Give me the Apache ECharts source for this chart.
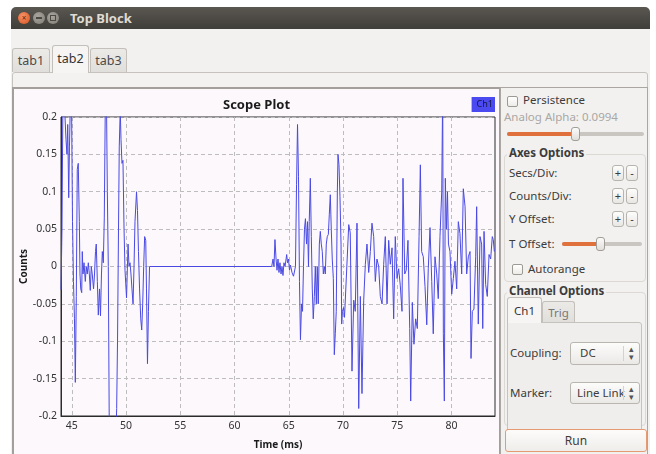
<!DOCTYPE html>
<html>
<head>
<meta charset="utf-8">
<script src="https://cdn.jsdelivr.net/npm/echarts@6/dist/echarts.min.js"></script>
<style>
  html, body { margin:0; padding:0; width:656px; height:454px; overflow:hidden; background:#ffffff;
    font-family:"Noto Sans", "DejaVu Sans", sans-serif; color:#3c3c3c; }
  .a { position:absolute; box-sizing:border-box; }
  .lbl { position:absolute; font-size:11.5px; line-height:14px; white-space:nowrap; color:#3c3c3c; }
  .bold { font-weight:bold; }
  .cb { position:absolute; width:11px; height:11px; border:1px solid #9d9a95; border-radius:2px;
    background:linear-gradient(#ffffff,#eeece9); box-sizing:border-box; }
  .btn { position:absolute; width:12px; height:16px; border:1px solid #b7b4af; border-radius:3px;
    background:linear-gradient(#fdfdfc,#e9e7e4); box-sizing:border-box; font-size:11px; line-height:13px;
    text-align:center; color:#3c3c3c; }
  .track { position:absolute; height:4px; border-radius:2px; background:#c9c6c1; }
  .fill { position:absolute; height:4px; border-radius:2px; background:#e0703c; }
  .handle { position:absolute; width:9px; height:14px; border:1px solid #a19d97; border-radius:3px;
    background:linear-gradient(#fbfbfa,#e2dfdb); box-sizing:border-box; }
  .combo { position:absolute; border:1px solid #b9b6b0; border-radius:3px; box-sizing:border-box;
    background:linear-gradient(#fcfcfb,#ebe9e6); font-size:11.5px; line-height:20px; overflow:hidden; white-space:nowrap; }
  .tab { position:absolute; box-sizing:border-box; border:1px solid #c3c0bb; border-bottom:none;
    border-radius:3px 3px 0 0; font-size:12.5px; text-align:center; color:#4a4a4a; }
</style>
</head>
<body>
<!-- window title bar -->
<div class="a" style="left:11px;top:7px;width:639px;height:22px;border-radius:5px 5px 0 0;background:linear-gradient(#5a5751,#403e3a);"></div>
<div class="a" style="left:18px;top:12px;width:12px;height:12px;border-radius:6px;background:radial-gradient(circle at 40% 35%,#f5946a,#d9501c);"></div>
<div class="a" style="left:21px;top:10px;width:6px;font-size:8px;color:#5a2a10;text-align:center;line-height:15px;">×</div>
<div class="a" style="left:33px;top:12px;width:12px;height:12px;border-radius:6px;background:radial-gradient(circle at 40% 35%,#a9a59e,#7f7b75);"></div>
<div class="a" style="left:36px;top:17px;width:6px;height:2px;background:#4b4944;"></div>
<div class="a" style="left:47px;top:12px;width:12px;height:12px;border-radius:6px;background:radial-gradient(circle at 40% 35%,#a9a59e,#7f7b75);"></div>
<div class="a" style="left:50px;top:15px;width:6px;height:6px;border:1px solid #4b4944;"></div>
<div class="lbl bold" style="left:70px;top:10px;font-size:13px;line-height:16px;color:#dfdbd2;">Top Block</div>

<!-- window body -->
<div class="a" style="left:11px;top:29px;width:639px;height:430px;background:#f2f1f0;"></div>

<!-- top tabs -->
<div class="tab" style="left:12px;top:48px;width:38px;height:24px;background:linear-gradient(#eceae7,#e1dfdb);line-height:24px;">tab1</div>
<div class="tab" style="left:52px;top:45px;width:37px;height:28px;background:#f6f5f4;line-height:26px;color:#333;z-index:2;">tab2</div>
<div class="tab" style="left:90px;top:48px;width:37px;height:24px;background:linear-gradient(#eceae7,#e1dfdb);line-height:24px;">tab3</div>
<div class="a" style="left:12px;top:72px;width:636px;height:400px;border:1px solid #c6c3be;border-radius:3px;background:#f3f2f1;"></div>

<!-- plot frame -->
<div class="a" style="left:12px;top:87px;width:489px;height:380px;border:2px solid #a3a09b;background:#fcf8fc;"></div>
<div id="scope" class="a" style="left:14px;top:89px;width:485px;height:370px;"></div>

<!-- control panel -->
<div class="a" style="left:500px;top:87px;width:148px;height:380px;border:1px solid #aaa7a2;background:#f2f1f0;"></div>

<div class="cb" style="left:507px;top:96px;"></div>
<div class="lbl" style="left:523px;top:93px;">Persistence</div>
<div class="lbl" style="left:504px;top:110px;color:#a9a7a3;">Analog Alpha: 0.0994</div>
<div class="track" style="left:507px;top:132px;width:137px;"></div>
<div class="fill" style="left:507px;top:132px;width:68px;"></div>
<div class="handle" style="left:571px;top:127px;"></div>

<div class="a" style="left:504px;top:154px;width:142px;height:128px;border:1px solid #dcd9d4;border-radius:4px;"></div>
<div class="lbl bold" style="left:507px;top:146px;background:#f2f1f0;padding:0 2px;">Axes Options</div>
<div class="lbl" style="left:509px;top:166px;">Secs/Div:</div>
<div class="btn" style="left:612px;top:165px;">+</div>
<div class="btn" style="left:626px;top:165px;">-</div>
<div class="lbl" style="left:509px;top:189px;">Counts/Div:</div>
<div class="btn" style="left:612px;top:188px;">+</div>
<div class="btn" style="left:626px;top:188px;">-</div>
<div class="lbl" style="left:509px;top:212px;">Y Offset:</div>
<div class="btn" style="left:612px;top:211px;">+</div>
<div class="btn" style="left:626px;top:211px;">-</div>
<div class="lbl" style="left:509px;top:237px;">T Offset:</div>
<div class="track" style="left:562px;top:242px;width:80px;"></div>
<div class="fill" style="left:562px;top:242px;width:38px;"></div>
<div class="handle" style="left:596px;top:237px;"></div>
<div class="cb" style="left:512px;top:264px;"></div>
<div class="lbl" style="left:528px;top:262px;">Autorange</div>

<div class="a" style="left:504px;top:292px;width:142px;height:134px;border:1px solid #dcd9d4;border-radius:4px;"></div>
<div class="lbl bold" style="left:507px;top:284px;background:#f2f1f0;padding:0 2px;">Channel Options</div>
<div class="a" style="left:507px;top:322px;width:135px;height:113px;border:1px solid #c6c3be;border-radius:0 3px 3px 3px;background:#efeeec;"></div>
<div class="tab" style="left:507px;top:297px;width:35px;height:26px;background:#f6f5f4;line-height:25px;font-size:11.5px;color:#333;z-index:2;">Ch1</div>
<div class="tab" style="left:542px;top:301px;width:33px;height:21px;background:linear-gradient(#eceae7,#e1dfdb);line-height:21px;font-size:11.5px;color:#777;">Trig</div>
<div class="lbl" style="left:510px;top:346px;">Coupling:</div>
<div class="combo" style="left:570px;top:342px;width:70px;height:23px;padding-left:9px;">DC</div>
<div class="a" style="left:623px;top:346px;width:1px;height:15px;background:#d5d2cd;"></div>
<div class="lbl" style="left:629px;top:345px;font-size:9px;line-height:8px;color:#555;">▴<br>▾</div>
<div class="lbl" style="left:510px;top:386px;">Marker:</div>
<div class="combo" style="left:570px;top:382px;width:70px;height:22px;padding-left:6px;"><span style="display:inline-block;width:51px;overflow:hidden;">Line Link</span></div>
<div class="a" style="left:623px;top:386px;width:1px;height:14px;background:#d5d2cd;"></div>
<div class="lbl" style="left:629px;top:385px;font-size:9px;line-height:8px;color:#555;">▴<br>▾</div>

<div class="a" style="left:505px;top:429px;width:142px;height:23px;border:1px solid #e59a74;border-radius:3px;background:linear-gradient(#fdfcfb,#efedea);font-size:12px;line-height:21px;text-align:center;color:#3c3c3c;">Run</div>

<script>
// Ch1 capture: [time (ms), counts]. First burst, quiet gap, second burst.
const burstA = [
  [44.00,-0.031],[44.09,0.05],[44.18,0.23],[44.28,0.21],[44.37,0.2],[44.46,0.17],[44.55,0.15],[44.62,0.19],
  [44.71,0.092],[44.78,0.16],[44.88,0.23],[44.97,0.22],[45.06,0.06],[45.15,-0.02],[45.24,-0.07],[45.32,-0.155],
  [45.41,-0.04],[45.50,0.13],[45.59,0.138],[45.69,0.06],[45.75,-0.01],[45.82,-0.03],[45.91,-0.035],[45.96,0.02],
  [46.03,-0.01],[46.12,0.005],[46.24,-0.02],[46.33,0.0],[46.42,-0.01],[46.52,0.005],[46.61,-0.01],[46.70,-0.032],
  [46.79,0.0],[46.88,-0.01],[47.00,-0.03],[47.09,-0.01],[47.18,0.02],[47.25,0.03],[47.35,-0.02],[47.44,-0.065],
  [47.55,-0.03],[47.64,-0.066],[47.73,-0.01],[47.81,0.02],[47.90,0.005],[47.99,0.065],[48.08,0.21],[48.18,0.24],
  [48.27,0.1],[48.36,0.0],[48.45,-0.22],[48.56,-0.3],[48.70,-0.32],[48.88,-0.3],[49.02,-0.25],[49.13,-0.19],
  [49.21,-0.1],[49.30,0.05],[49.37,0.16],[49.46,0.21],[49.53,0.17],[49.62,0.138],[49.71,0.142],[49.81,0.05],
  [49.90,-0.005],[50.04,-0.042],[50.18,0.03],[50.27,0.0],[50.36,0.005],[50.45,-0.01],[50.54,-0.03],[50.64,-0.05],
  [50.73,0.0],[50.82,0.06],[50.96,0.1],[51.05,0.075],[51.14,0.02],[51.24,-0.03],[51.35,-0.07],[51.44,-0.085],
  [51.53,-0.05],[51.62,0.0],[51.71,0.04],[51.81,0.035],[51.88,-0.03],[51.97,-0.13],[52.06,-0.06],[52.16,0.0]
];

const burstB = [
  [63.42,0],[63.54,0.01],[63.63,0.0],[63.72,0.036],[63.82,0.01],[63.91,-0.005],[64.00,0.01],[64.09,-0.008],
  [64.18,0.005],[64.28,-0.01],[64.37,0.0],[64.46,-0.012],[64.55,0.005],[64.65,0.0],[64.80,0.016],[64.88,0.005],
  [64.97,0.01],[65.06,-0.005],[65.15,0.002],[65.29,-0.008],[65.43,-0.013],[65.61,0.0],[65.71,0.11],[65.80,0.19],
  [65.89,0.12],[65.98,-0.02],[66.07,-0.098],[66.17,-0.05],[66.26,-0.06],[66.35,0.0],[66.44,0.05],[66.53,0.064],
  [66.63,0.03],[66.72,0.06],[66.81,0.0],[66.88,0.06],[66.98,0.118],[67.07,0.04],[67.16,-0.03],[67.25,-0.07],
  [67.35,-0.04],[67.44,0.0],[67.53,-0.05],[67.62,0.0],[67.71,-0.05],[67.81,0.03],[67.90,0.047],[67.99,0.03],
  [68.08,0.02],[68.18,-0.01],[68.27,0.0],[68.36,-0.01],[68.45,0.03],[68.54,0.04],[68.64,0.043],[68.73,0.07],
  [68.82,0.096],[68.91,0.05],[69.00,0.01],[69.10,-0.016],[69.19,-0.118],[69.28,-0.09],[69.37,-0.06],[69.47,0.1],
  [69.53,0.15],[69.62,0.136],[69.71,0.094],[69.81,0.03],[69.87,-0.077],[69.94,-0.06],[70.04,-0.055],[70.13,-0.068],
  [70.29,-0.07],[70.52,0.056],[70.66,0.045],[70.82,-0.14],[70.98,-0.045],[71.12,-0.06],[71.28,0.058],[71.44,-0.19],
  [71.59,-0.04],[71.74,-0.17],[71.90,-0.045],[72.05,0.003],[72.20,0.03],[72.36,-0.008],[72.51,0.02],[72.66,0.058],
  [72.82,0.04],[72.97,-0.02],[73.12,0.01],[73.28,0.0],[73.43,-0.04],[73.59,-0.05],[73.74,0.003],[73.89,0.04],
  [74.05,-0.05],[74.20,0.035],[74.35,0.003],[74.51,0.025],[74.66,-0.07],[74.81,0.04],[74.97,-0.016],[75.12,-0.003],
  [75.27,-0.025],[75.43,-0.06],[75.52,0.118],[75.68,-0.01],[75.82,-0.005],[75.98,0.035],[76.14,-0.083],[76.23,-0.18],
  [76.38,-0.048],[76.53,-0.104],[76.69,-0.07],[76.84,-0.083],[77.00,0.04],[77.12,0.136],[77.24,0.02],[77.39,0.013],
  [77.55,-0.027],[77.71,-0.078],[77.85,-0.003],[78.01,0.052],[78.17,-0.02],[78.31,-0.09],[78.47,0.013],[78.63,-0.01],
  [78.77,-0.043],[78.93,0.04],[79.09,0.1],[79.18,0.24],[79.24,-0.09],[79.33,-0.18],[79.42,0.118],[79.53,0.05],
  [79.62,0.1],[79.71,0.03],[79.85,0.02],[80.01,-0.037],[80.16,-0.016],[80.31,0.007],[80.47,-0.03],[80.62,0.06],
  [80.77,0.044],[80.93,-0.01],[81.08,0.104],[81.24,0.08],[81.39,-0.01],[81.54,0.013],[81.70,0.02],[81.79,-0.123],
  [81.91,-0.06],[82.06,-0.057],[82.22,0.013],[82.31,0.08],[82.46,-0.077],[82.62,0.04],[82.77,0.03],[82.87,-0.083],
  [82.99,0.047],[83.14,-0.024],[83.29,-0.04],[83.45,0.016],[83.60,0.01],[83.75,0.04],[83.84,0.036],[83.94,0.02]
];

const xTicks = [45, 50, 55, 60, 65, 70, 75, 80];
const yTicks = [-0.2, -0.15, -0.1, -0.05, 0, 0.05, 0.1, 0.15, 0.2];
const seriesName = 'Ch1';

const font = 'Noto Sans';
const chart = echarts.init(document.getElementById('scope'), null, { renderer: 'canvas' });
chart.setOption({
  animation: false,
  title: {
    text: 'Scope Plot', left: 'center', top: 5,
    textStyle: { fontFamily: font, fontWeight: 'bold', fontSize: 13, color: '#1b1b1b' }
  },
  legend: {
    data: [seriesName], right: 4, top: 8, icon: 'rect', itemWidth: 0, itemHeight: 0, itemGap: 0,
    backgroundColor: '#4a4af0', padding: [3, 2, 3, 0], selectedMode: false,
    textStyle: { fontFamily: font, fontSize: 9, color: '#15154a' }
  },
  grid: {
    left: 47, top: 28, width: 434, height: 299, outerBoundsMode: 'none', containLabel: false,
    show: true, borderColor: '#2b2b2b', borderWidth: 1, backgroundColor: 'transparent'
  },
  xAxis: {
    type: 'value', min: 44, max: 84,
    name: 'Time (ms)', nameLocation: 'middle', nameGap: 24, nameMoveOverlap: false,
    nameTextStyle: { fontFamily: font, fontWeight: 'bold', fontSize: 10, color: '#1b1b1b' },
    axisLine: { onZero: false, lineStyle: { color: '#2b2b2b' } },
    axisTick: { show: false, customValues: xTicks },
    axisLabel: { customValues: xTicks, margin: 5, fontFamily: font, fontSize: 10.5, color: '#333' },
    splitLine: { show: true, lineStyle: { type: [4, 3], color: '#bdbdbd', width: 1 } }
  },
  yAxis: {
    type: 'value', min: yTicks[0], max: yTicks[yTicks.length - 1], interval: 0.05,
    name: 'Counts', nameLocation: 'middle', nameGap: 32, nameRotate: 90, nameMoveOverlap: false,
    nameTextStyle: { fontFamily: font, fontWeight: 'bold', fontSize: 10, color: '#1b1b1b' },
    axisLine: { onZero: false, lineStyle: { color: '#2b2b2b' } },
    axisTick: { show: false },
    axisLabel: {
      margin: 4, fontFamily: font, fontSize: 10.5, color: '#333',
      formatter: v => String(Math.round(v * 100) / 100)
    },
    splitLine: { show: true, lineStyle: { type: [4, 3], color: '#bdbdbd', width: 1 } }
  },
  series: [{
    name: seriesName, type: 'line', data: burstA.concat(burstB),
    symbol: 'none', showSymbol: false, clip: true, sampling: null,
    itemStyle: { color: '#4a4af0' },
    lineStyle: { color: '#4a4ae2', width: 1 }
  }]
});
</script>
</body>
</html>
